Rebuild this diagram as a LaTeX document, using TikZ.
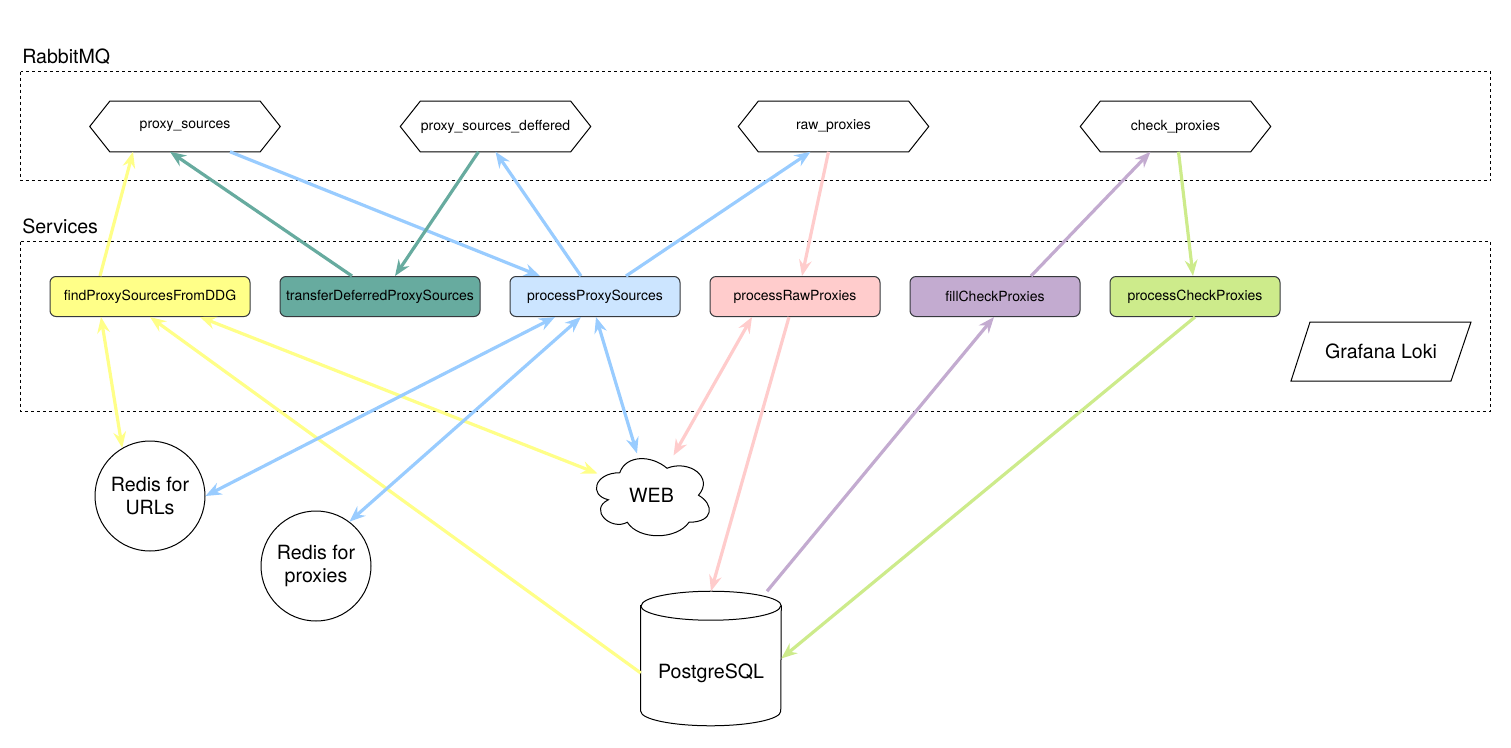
\documentclass[tikz,border=0pt]{standalone}
\usepackage{fontspec}
\setmainfont{TeX Gyre Heros}
\usetikzlibrary{arrows.meta,calc}
\definecolor{cYel}{HTML}{FFFF88}
\definecolor{cGrn}{HTML}{67AB9F}
\definecolor{cBluF}{HTML}{CCE5FF}
\definecolor{cBlu}{HTML}{99CCFF}
\definecolor{cPnk}{HTML}{FFCCCC}
\definecolor{cPur}{HTML}{C3ABD0}
\definecolor{cLim}{HTML}{CDEB8B}
\definecolor{cStroke}{HTML}{36393D}
\newcommand{\qhex}[4]{%
  \node[qnode] (#1) at (#2,#3) {#4};
  \draw[line width=0.75pt] (#1.west) -- ($(#1.north west)+(20,0)$) -- ($(#1.north east)+(-20,0)$) -- (#1.east) -- ($(#1.south east)+(-20,0)$) -- ($(#1.south west)+(20,0)$) -- cycle;}
\begin{document}
\begin{tikzpicture}[x=0.75pt,y=-0.75pt,
  smalltxt/.style={font=\fontsize{10.5}{12.6}\selectfont},
  bigtxt/.style={font=\fontsize{14.7}{17.3}\selectfont},
  groupbox/.style={draw=black, line width=0.75pt, dash pattern=on 2.25pt off 2.25pt},
  svc/.style={rectangle, rounded corners=4.5pt, draw=cStroke, line width=0.75pt, minimum height=30pt, inner sep=0pt, smalltxt},
  svcwide/.style={svc, minimum width=150pt},
  svcnarrow/.style={svc, minimum width=127.5pt},
  qnode/.style={rectangle, minimum width=142.5pt, minimum height=37.5pt, inner sep=0pt, smalltxt},
  conn/.style={line width=2.4pt},
  onehead/.style={-{Stealth[length=12pt,width=9.5pt,inset=4pt]}},
  twohead/.style={{Stealth[length=12pt,width=9.5pt,inset=4pt]}-{Stealth[length=12pt,width=9.5pt,inset=4pt]}},
  redis/.style={circle, draw=black, line width=0.75pt, minimum size=82.5pt, inner sep=0pt, bigtxt, align=center}
]
\useasboundingbox (0,0) rectangle (1511,747);

% group labels and boxes
\node[bigtxt, anchor=base west, inner sep=0pt] (lrabbit) at (22,63.3) {RabbitMQ};
\node[bigtxt, anchor=base west, inner sep=0pt] (lservices) at (22,233) {Services};
\draw[groupbox] (20.5,71.5) rectangle (1490.5,180.5);
\draw[groupbox] (20.5,241.5) rectangle (1490.5,411);

% queues
\qhex{q1}{185}{126.5}{proxy\_sources}
\qhex{q2}{495.5}{126.5}{proxy\_sources\_deffered}
\qhex{q3}{833.5}{126.5}{raw\_proxies}
\qhex{q4}{1175.5}{126.5}{check\_proxies}

% services
\node[svcwide, fill=cYel] (find) at (150,296.5) {findProxySourcesFromDDG};
\node[svcwide, fill=cGrn] (transfer) at (380,296.5) {transferDeferredProxySources};
\node[svcnarrow, fill=cBluF] (pps) at (595,296.5) {processProxySources};
\node[svcnarrow, fill=cPnk] (praw) at (795,296.5) {processRawProxies};
\node[svcnarrow, fill=cPur] (fill) at (995,296.5) {fillCheckProxies};
\node[svcnarrow, fill=cLim] (pcheck) at (1195,296.5) {processCheckProxies};

% Grafana Loki
\node[bigtxt, minimum width=135pt, minimum height=44.25pt, inner sep=0pt] (loki) at (1381,351.5) {Grafana Loki};
\draw[line width=0.75pt] ($(loki.center)+(-71,-29.5)$) -- ($(loki.center)+(90,-29.5)$) -- ($(loki.center)+(70,29.5)$) -- ($(loki.center)+(-90,29.5)$) -- cycle;

% storage
\node[redis] (rurl) at (150,496) {Redis for\\URLs};
\node[redis] (rprox) at (316,566) {Redis for\\proxies};

\node[rectangle, minimum width=94.5pt, minimum height=67.5pt, inner sep=0pt, bigtxt] (web) at (651.5,495.5) {WEB};
\begin{scope}[shift={(web.north west)}, x=94.5pt, y=-67.5pt]
\draw[line width=0.75pt] (0.25,0.25) .. controls (0.05,0.25) and (0,0.5) .. (0.16,0.55)
  .. controls (0,0.66) and (0.18,0.9) .. (0.31,0.8)
  .. controls (0.4,1) and (0.7,1) .. (0.8,0.8)
  .. controls (1,0.8) and (1,0.6) .. (0.875,0.5)
  .. controls (1,0.3) and (0.8,0.1) .. (0.625,0.2)
  .. controls (0.5,0.05) and (0.3,0.05) .. (0.25,0.25) -- cycle;
\end{scope}

\node[rectangle, minimum width=105pt, minimum height=100.5pt, inner sep=0pt] (pg) at (711,658.5) {};
\draw[line width=0.75pt, fill=white] ($(pg.north west)+(0,14.5)$) -- ($(pg.south west)+(0,-14.5)$) arc[start angle=180,end angle=0,x radius=70,y radius=14.5] -- ($(pg.north east)+(0,14.5)$) arc[start angle=360,end angle=180,x radius=70,y radius=14.5] -- cycle;
\draw[line width=0.75pt] ($(pg.north west)+(0,14.5)$) arc[start angle=180,end angle=0,x radius=70,y radius=14.5];
\node[bigtxt] (pgtext) at ($(pg.center)+(0,14.5)$) {PostgreSQL};

% connectors: services <-> queues
\draw[conn, draw=cYel, onehead] ($(find.north)+(-50,0)$) -- ($(q1.south)+(-52,0)$);
\draw[conn, draw=cGrn, onehead] ($(transfer.north)+(-28,0)$) -- ($(q1.south)+(-15,0)$);
\draw[conn, draw=cBlu, onehead] ($(q1.south)+(45,0)$) -- ($(pps.north)+(-55,0)$);
\draw[conn, draw=cGrn, onehead] ($(q2.south)+(-17,0)$) -- ($(transfer.north)+(15,0)$);
\draw[conn, draw=cBlu, onehead] ($(pps.north)+(-14,0)$) -- (q2.south);
\draw[conn, draw=cBlu, onehead] ($(pps.north)+(31,0)$) -- ($(q3.south)+(-23,0)$);
\draw[conn, draw=cPnk, onehead] ($(q3.south)+(-5,0)$) -- ($(praw.north)+(7,0)$);
\draw[conn, draw=cPur, onehead] ($(fill.north)+(36,0)$) -- ($(q4.south)+(-25,0)$);
\draw[conn, draw=cLim, onehead] ($(q4.south)+(3,0)$) -- ($(pcheck.north)+(-2,0)$);

% connectors: services <-> storage
\draw[conn, draw=cYel, twohead] ($(find.south)+(-49,0)$) -- (rurl.120);
\draw[conn, draw=cYel, onehead] ($(pg.west)+(0,14.5)$) -- (find.south);
\draw[conn, draw=cYel, twohead] ($(find.south)+(50,0)$) -- ($(web.center)+(-54,-22)$);
\draw[conn, draw=cBlu, twohead] ($(pps.south)+(-40,0)$) -- (rurl.east);
\draw[conn, draw=cBlu, twohead] ($(pps.south)+(-14,0)$) -- (rprox.53);
\draw[conn, draw=cBlu, twohead] ($(pps.south)+(1,0)$) -- ($(web.center)+(-14.5,-42)$);
\draw[conn, draw=cPnk, twohead] ($(praw.south)+(-43,0)$) -- ($(web.center)+(22,-40)$);
\draw[conn, draw=cPnk, onehead] ($(praw.south)+(-6,0)$) -- (pg.north);
\draw[conn, draw=cPur, onehead] ($(pg.north)+(56,0)$) -- ($(fill.south)+(-1,0)$);
\draw[conn, draw=cLim, onehead] (pcheck.south) -- (pg.east);
\end{tikzpicture}
\end{document}
